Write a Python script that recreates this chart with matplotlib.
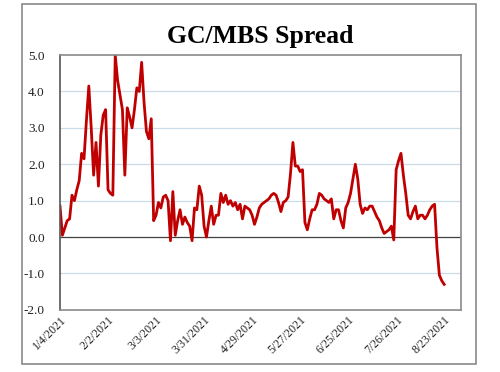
import matplotlib
matplotlib.use("Agg")
import matplotlib.pyplot as plt
from matplotlib.patches import Rectangle

# GC/MBS spread, one value per business day starting 1/4/2021
spread = [
    0.85, 0.05, 0.25, 0.45, 0.5, 1.15, 1.0, 1.3, 1.55, 2.3,
    2.15, 3.2, 4.15, 3.0, 1.7, 2.6, 1.4, 2.8, 3.35, 3.5,
    1.3, 1.2, 1.15, 5.0, 4.3, 3.9, 3.5, 1.7, 3.55, 3.3,
    3.0, 3.5, 4.1, 4.0, 4.8, 3.7, 2.9, 2.7, 3.25, 0.45,
    0.6, 0.95, 0.8, 1.1, 1.15, 1.0, -0.1, 1.25, 0.05, 0.45,
    0.75, 0.35, 0.55, 0.4, 0.3, -0.1, 0.8, 0.75, 1.4, 1.15,
    0.3, 0.0, 0.45, 0.85, 0.35, 0.6, 0.6, 1.2, 0.95, 1.15,
    0.9, 1.0, 0.85, 0.95, 0.75, 0.9, 0.5, 0.85, 0.8, 0.75,
    0.6, 0.35, 0.55, 0.8, 0.9, 0.95, 1.0, 1.05, 1.15, 1.2,
    1.15, 0.95, 0.7, 0.95, 1.0, 1.1, 1.75, 2.6, 1.95, 1.95,
    1.8, 1.85, 0.4, 0.2, 0.5, 0.75, 0.75, 0.9, 1.2, 1.15,
    1.05, 1.0, 0.95, 1.05, 0.5, 0.75, 0.75, 0.45, 0.25, 0.8,
    0.95, 1.2, 1.6, 2.0, 1.6, 0.9, 0.65, 0.8, 0.75, 0.85,
    0.85, 0.7, 0.55, 0.45, 0.25, 0.1, 0.15, 0.2, 0.3, -0.08,
    1.85, 2.1, 2.3, 1.7, 1.2, 0.6, 0.5, 0.7, 0.85, 0.5,
    0.6, 0.6, 0.5, 0.6, 0.75, 0.85, 0.9, -0.3, -1.05, -1.2,
    -1.3,
]
tick_labels = ["1/4/2021", "2/2/2021", "3/3/2021", "3/31/2021", "4/29/2021",
               "5/27/2021", "6/25/2021", "7/26/2021", "8/23/2021"]
y_ticks = [-2.0, -1.0, 0.0, 1.0, 2.0, 3.0, 4.0, 5.0]

serif = ["Liberation Serif", "DejaVu Serif"]

fig = plt.figure(figsize=(5, 3.72), dpi=100)
ax = fig.add_axes([0.12, 0.167, 0.802, 0.685])

ax.plot(range(len(spread)), spread, color="#c00000", lw=2.0, solid_joinstyle="round")

for v in y_ticks:
    if v == 0.0:
        ax.axhline(v, color="#404040", lw=0.9, zorder=1)
    elif v > -2.0 and v < 5.0:
        ax.axhline(v, color="#c9dcea", lw=0.9, zorder=0)

ax.set_ylim(-2.0, 5.0)
ax.set_xlim(0, 167)
ax.set_yticks(y_ticks)
ax.set_yticklabels([f"{v:.1f}" for v in y_ticks], fontfamily=serif, fontsize=9.5)
ax.set_xticks(range(0, 20 * len(tick_labels), 20))
ax.set_xticklabels(tick_labels, rotation=45, ha="right", rotation_mode="anchor",
                   fontfamily=serif, fontsize=8.5)
ax.tick_params(axis="y", length=0, pad=11, colors="#222222")
ax.tick_params(axis="x", length=0, pad=3, colors="#222222")

for side in ["top", "right", "bottom"]:
    ax.spines[side].set_color("#8a8a8a")
    ax.spines[side].set_linewidth(1.2)
ax.spines["left"].set_color("#555555")
ax.spines["left"].set_linewidth(1.2)

ax.set_title("GC/MBS Spread", fontfamily=serif, fontweight="bold", fontsize=18.5, pad=9)

fig.patches.append(Rectangle((0.044, 0.022), 0.908, 0.967, transform=fig.transFigure,
                             fill=False, edgecolor="#8a8a8a", lw=1.2))

fig.savefig("out.png", dpi=100)
